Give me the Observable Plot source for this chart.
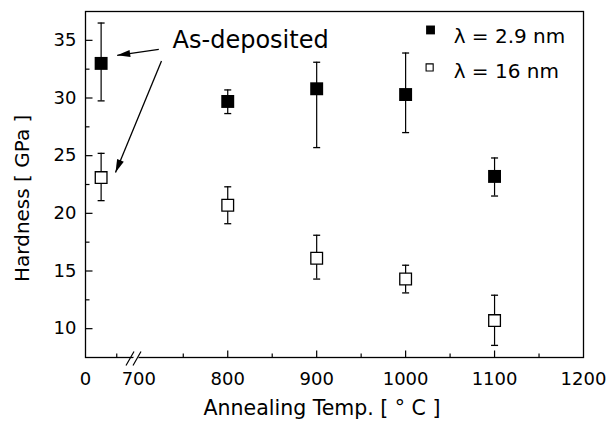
<!DOCTYPE html>
<html><head><meta charset="utf-8">
<script src="https://cdn.jsdelivr.net/npm/d3@7"></script>
<script src="https://cdn.jsdelivr.net/npm/@observablehq/plot@0.6"></script>
<style>body{margin:0;background:#fff} svg{display:block}</style>
</head><body><div id="chart"></div>
<script>
// Data (25 °C stands for the as-deposited samples, drawn left of the axis break)
const temps = [25, 800, 900, 1000, 1100];
const hard29 = [33.0, 29.7, 30.8, 30.3, 23.2];
const hard29Lo = [29.75, 28.65, 25.7, 27.0, 21.5];
const hard29Hi = [36.5, 30.7, 33.1, 33.9, 24.8];
const hard16 = [23.1, 20.7, 16.1, 14.3, 10.7];
const hard16Lo = [21.1, 19.1, 14.3, 13.1, 8.55];
const hard16Hi = [25.2, 22.3, 18.1, 15.5, 12.9];
const seriesNames = ["λ = 2.9 nm", "λ = 16 nm"];
const xTickLabels = [0, 700, 800, 900, 1000, 1100, 1200];
const xMajorMarks = [800, 900, 1000, 1100];
const xMinorMarks = [50, 750, 850, 950, 1050, 1150];
const yTickLabels = [10, 15, 20, 25, 30, 35];
const yMinorMarks = [12.5, 17.5, 22.5, 27.5, 32.5];
const annotationText = "As-deposited";
const xTitle = "Annealing Temp. [ ° C ]";
const yTitle = "Hardness [ GPa ]";

const FONT = "DejaVu Sans";
const W = 609, H = 422;
const xDomain = [0, 80, 700, 1200];
const xRange = [85, 135, 138.3, 583];
const yDomain = [7.5, 37.5];
const margins = {marginTop: 11, marginBottom: 65, marginLeft: 85, marginRight: 26};

const rows = (vals, lo, hi) => temps.map((t, i) => ({t, v: vals[i], lo: lo[i], hi: hi[i]}));
const s29 = rows(hard29, hard29Lo, hard29Hi);
const s16 = rows(hard16, hard16Lo, hard16Hi);

// custom symbols
const sym = f => ({draw: f});
const capSym = sym(c => { c.moveTo(-3.5, 0); c.lineTo(3.5, 0); });
const xMajSym = sym(c => { c.moveTo(0, 0); c.lineTo(0, -7); });
const xMinSym = sym(c => { c.moveTo(0, 0); c.lineTo(0, -4); });
const yMajSym = sym(c => { c.moveTo(0, 0); c.lineTo(7, 0); });
const yMinSym = sym(c => { c.moveTo(0, 0); c.lineTo(4, 0); });
const headSym = sym(c => { c.moveTo(0, 0); c.lineTo(-13, -3.6); c.lineTo(-13, 3.6); c.closePath(); });
const breakFillSym = sym(c => { c.moveTo(-3, 6); c.lineTo(4, -6); c.lineTo(9, -6); c.lineTo(2, 6); c.closePath(); });
const breakLineSym = sym(c => { c.moveTo(-7, 8); c.lineTo(1, -6); c.moveTo(0, 8); c.lineTo(8, -6); });

const scales = {
  x: {type: "linear", domain: xDomain, range: xRange, axis: null},
  y: {domain: yDomain, axis: null}
};

// Probe pass to obtain the scales for arrowhead angles
const probe = Plot.plot({width: W, height: H, ...margins, ...scales, marks: [Plot.frame()]});
const sx = probe.scale("x"), sy = probe.scale("y");
const fx = sx.apply ? v => sx.apply(v) : d3.scaleLinear(sx.domain, sx.range);
const fy = sy.apply ? v => sy.apply(v) : d3.scaleLinear(sy.domain, sy.range);

const arrows = [
  {x1: 722.5, y1: 34.22, x2: 50.7, y2: 33.7},
  {x1: 725.5, y1: 33.21, x2: 48, y2: 23.55}
].map(a => ({...a, angle: Math.atan2(fy(a.y2) - fy(a.y1), fx(a.x2) - fx(a.x1)) * 180 / Math.PI}));

const bars = (data) => [
  Plot.ruleX(data, {x: "t", y1: "lo", y2: "hi", stroke: "black", strokeWidth: 1.2}),
  Plot.dot(data, {x: "t", y: "lo", symbol: capSym, stroke: "black", strokeWidth: 1.3, fill: "none"}),
  Plot.dot(data, {x: "t", y: "hi", symbol: capSym, stroke: "black", strokeWidth: 1.3, fill: "none"})
];

const yBottom = yDomain[0];
const chart = Plot.plot({
  width: W, height: H, ...margins, ...scales,
  style: {background: "white", fontFamily: FONT},
  marks: [
    Plot.frame({stroke: "black", strokeWidth: 1.3}),
    // ticks
    Plot.dot(xMajorMarks, {x: d => d, y: () => yBottom, symbol: xMajSym, stroke: "black", strokeWidth: 1.2, fill: "none"}),
    Plot.dot(xMinorMarks, {x: d => d, y: () => yBottom, symbol: xMinSym, stroke: "black", strokeWidth: 1.2, fill: "none"}),
    Plot.dot(yTickLabels, {x: () => xDomain[0], y: d => d, symbol: yMajSym, stroke: "black", strokeWidth: 1.2, fill: "none"}),
    Plot.dot(yMinorMarks, {x: () => xDomain[0], y: d => d, symbol: yMinSym, stroke: "black", strokeWidth: 1.2, fill: "none"}),
    // axis break
    Plot.dot([76], {x: d => d, y: () => yBottom, symbol: breakFillSym, fill: "white", stroke: "none"}),
    Plot.dot([76], {x: d => d, y: () => yBottom, symbol: breakLineSym, stroke: "black", strokeWidth: 1.2, fill: "none"}),
    // tick labels
    Plot.text(xTickLabels, {x: d => d, y: () => yBottom, text: d => String(d), dy: 22, fontSize: 18, fontFamily: FONT, fill: "black", lineAnchor: "middle"}),
    Plot.text(yTickLabels, {x: () => xDomain[0], y: d => d, text: d => String(d), dx: -9, textAnchor: "end", fontSize: 18, fontFamily: FONT, fill: "black", lineAnchor: "middle"}),
    // axis titles
    Plot.text([xTitle], {x: () => 906, y: () => yBottom, text: d => d, dy: 51, fontSize: 20.5, fontFamily: FONT, fill: "black", textAnchor: "middle", lineAnchor: "middle"}),
    Plot.text([yTitle], {x: () => -100, y: () => 21.3, text: d => d, rotate: -90, fontSize: 20, fontFamily: FONT, fill: "black", textAnchor: "middle", lineAnchor: "middle"}),
    // error bars + markers
    ...bars(s29),
    ...bars(s16),
    Plot.dot(s29, {x: "t", y: "v", symbol: "square", r: 7.3, fill: "black", stroke: "none"}),
    Plot.dot(s16, {x: "t", y: "v", symbol: "square", r: 6.6, fill: "white", stroke: "black", strokeWidth: 1.3}),
    // annotation
    Plot.link(arrows, {x1: "x1", y1: "y1", x2: "x2", y2: "y2", stroke: "black", strokeWidth: 1.3}),
    Plot.dot(arrows, {x: "x2", y: "y2", rotate: "angle", symbol: headSym, fill: "black", stroke: "none"}),
    Plot.text([annotationText], {x: () => 738, y: () => 35.0, text: d => d, textAnchor: "start", fontSize: 24, fontFamily: FONT, fill: "black", lineAnchor: "middle"}),
    // legend
    Plot.dot([seriesNames[0]], {x: () => 1028, y: () => 35.9, symbol: "square", r: 5.0, fill: "black", stroke: "none"}),
    Plot.dot([seriesNames[1]], {x: () => 1027, y: () => 32.65, symbol: "square", r: 4.0, fill: "white", stroke: "black", strokeWidth: 1.1}),
    Plot.text([seriesNames[0]], {x: () => 1054, y: () => 35.3, text: d => d, textAnchor: "start", fontSize: 20, fontFamily: FONT, fill: "black", lineAnchor: "middle"}),
    Plot.text([seriesNames[1]], {x: () => 1054, y: () => 32.3, text: d => d, textAnchor: "start", fontSize: 20, fontFamily: FONT, fill: "black", lineAnchor: "middle"})
  ]
});
document.getElementById("chart").appendChild(chart);
</script>
</body></html>
